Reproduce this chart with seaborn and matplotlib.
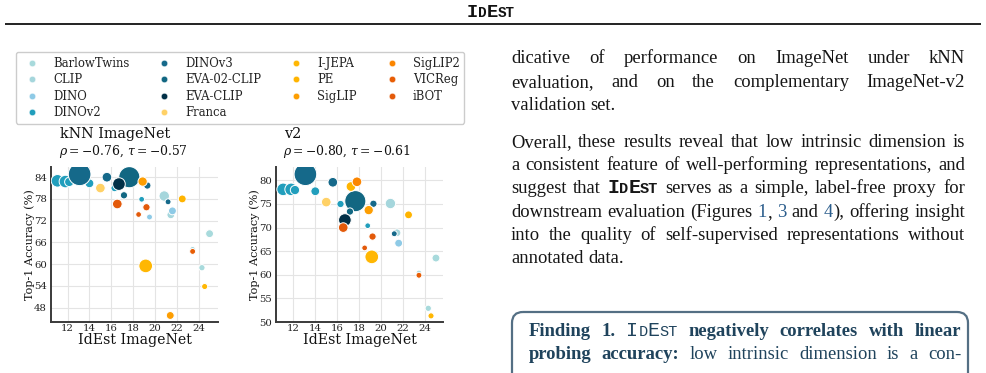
import numpy as np
import pandas as pd
import matplotlib
matplotlib.use("Agg")
import matplotlib.pyplot as plt
import seaborn as sns
from matplotlib.lines import Line2D
from matplotlib.patches import FancyBboxPatch

nan = np.nan

# ---------------- data ----------------
families = ["BarlowTwins", "CLIP", "DINO", "DINOv2", "DINOv3", "EVA-02-CLIP",
            "EVA-CLIP", "Franca", "I-JEPA", "PE", "SigLIP", "SigLIP2", "VICReg", "iBOT"]
family_colors = ["#a8dadc", "#a5d6dc", "#8ecae6", "#219ebc", "#15698a", "#126782",
                 "#023047", "#ffd166", "#ffb703", "#ffb400", "#fd9e02", "#fb8500",
                 "#e85d04", "#e35a0a"]

model_family = (["BarlowTwins"] * 2 + ["CLIP"] * 3 + ["DINO"] * 2 + ["DINOv2"] * 6 +
                ["DINOv3"] * 4 + ["EVA-02-CLIP"] * 2 + ["EVA-CLIP"] + ["Franca"] +
                ["I-JEPA"] * 2 + ["PE"] * 2 + ["SigLIP"] * 2 + ["SigLIP2"] +
                ["VICReg"] + ["iBOT"] * 3)
idest_imagenet = [25.0, 24.3, 20.85, 21.45, 23.45, 21.6, 19.5,
                  11.07, 11.8, 12.15, 14.0, 16.3, 18.78,
                  13.1, 15.6, 19.3, 21.2, 17.65, 17.16, 16.7, 15.0,
                  19.15, 24.55, 22.5, 17.25, 18.87, 21.4, 17.8, 23.45,
                  16.55, 19.22, 18.5]
knn_top1 = [68.4, 59.0, 78.8, 73.6, 64.1, 74.7, 73.0,
            83.0, 82.8, 82.7, 82.3, 81.0, 77.9,
            84.8, 84.0, 81.7, 77.2, 84.0, 79.0, 82.1, 81.0,
            59.5, 53.8, 78.0, nan, 82.8, 45.8, nan, 63.5,
            76.6, 75.7, 73.7]
v2_top1 = [63.55, 52.9, 75.1, 68.9, 60.4, 66.7, 64.5,
           78.1, 78.1, 77.95, 77.7, 75.0, 70.4,
           81.3, 79.6, 75.05, 68.7, 75.6, 73.4, 71.6, 75.4,
           63.8, 51.3, 72.7, 78.7, 73.7, nan, 79.7, 59.9,
           70.0, 68.1, 65.7]
model_size = [19, 9, 40, 18, 5, 19, 7,
              62, 62, 30, 26, 15, 6,
              220, 33, 15, 7, 190, 15, 63, 33,
              75, 8, 19, 33, 30, 19, 33, 7,
              33, 15, 6]

panel_titles = ["kNN ImageNet", "v2"]
panel_stats = [r"$\rho = -0.76$, $\tau = -0.57$", r"$\rho = -0.80$, $\tau = -0.61$"]
x_ticks = [12, 14, 16, 18, 20, 22, 24]
knn_yticks = [48, 54, 60, 66, 72, 78, 84]
v2_yticks = [50, 55, 60, 65, 70, 75, 80]
x_label = "IdEst ImageNet"
y_label = "Top-1 Accuracy (%)"

para1 = [
    "dicative of performance on ImageNet under kNN",
    "evaluation, and on the complementary ImageNet-v2",
    "validation set.",
]
para2 = [
    "Overall, these results reveal that low intrinsic dimension is",
    "a consistent feature of well-performing representations, and",
    "suggest that {IDEST} serves as a simple, label-free proxy for",
    "downstream evaluation (Figures [1], [3] and [4]), offering insight",
    "into the quality of self-supervised representations without",
    "annotated data.",
]
finding = [
    "*Finding* *1.* {IDEST} *negatively* *correlates* *with* *linear*",
    "*probing* *accuracy:* low intrinsic dimension is a con-",
]

# ---------------- figure ----------------
plt.rcParams["font.family"] = ["DejaVu Serif"]
plt.rcParams["mathtext.fontset"] = "dejavuserif"

W, H = 986, 373
fig = plt.figure(figsize=(W / 100, H / 100), dpi=100)
fig.patch.set_facecolor("white")


def fig_rect(x0, y0, x1, y1):
    return [x0 / W, 1 - y1 / H, (x1 - x0) / W, (y1 - y0) / H]


ax_txt = fig.add_axes([0, 0, 1, 1])
ax_txt.set_xlim(0, W)
ax_txt.set_ylim(H, 0)
ax_txt.axis("off")

df = pd.DataFrame({"family": model_family, "idest": idest_imagenet,
                   "knn": knn_top1, "v2": v2_top1, "size": model_size})
pal = dict(zip(families, family_colors))

ax1 = fig.add_axes(fig_rect(50.7, 166.7, 218.3, 322))
ax2 = fig.add_axes(fig_rect(276, 166.7, 443.3, 322))

for ax, col, yt, ylim, xlim in [(ax1, "knn", knn_yticks, (44.0, 86.9), (10.45, 25.8)),
                                (ax2, "v2", v2_yticks, (50.0, 82.9), (10.42, 25.67))]:
    sns.scatterplot(data=df, x="idest", y=col, hue="family", hue_order=families,
                    palette=pal, size="size", sizes=(10, 300), size_norm=(0, 250),
                    edgecolor="white", linewidth=0.7, legend=False, ax=ax, zorder=3)
    ax.set_xlim(*xlim)
    ax.set_ylim(*ylim)
    ax.set_xticks(x_ticks)
    ax.set_yticks(yt)
    ax.set_facecolor("white")
    ax.grid(True, color="#e4e4e4", lw=0.8)
    ax.set_axisbelow(True)
    for s in ["top", "right"]:
        ax.spines[s].set_visible(False)
    for s in ["left", "bottom"]:
        ax.spines[s].set_color("#3a3a3a")
        ax.spines[s].set_linewidth(1.4)
    ax.tick_params(axis="both", length=0, labelsize=7.3, colors="#222222")
    ax.tick_params(axis="x", pad=1.5)
    ax.tick_params(axis="y", pad=2.6)
    ax.set_xlabel(x_label, fontsize=10.2, color="#111111")
    ax.set_ylabel(y_label, fontsize=8.1, color="#111111")
    ax.yaxis.label.set_verticalalignment("center")
    ax.xaxis.set_label_coords(0.5, -0.07)
    ax.yaxis.set_label_coords(-0.128, 0.5)

# panel titles
for (x0, title, stats) in [(60, panel_titles[0], panel_stats[0]),
                           (284, panel_titles[1], panel_stats[1])]:
    ax_txt.text(x0, 134, title, fontsize=10.4, ha="left", va="center", color="#111111")
    ax_txt.text(x0 - 1, 151, stats, fontsize=8.9, ha="left", va="center", color="#111111")

# legend
handles = [Line2D([], [], ls="none", marker="o", markersize=4.6, markerfacecolor=c,
                  markeredgecolor="white", markeredgewidth=0.3) for c in family_colors]
leg = fig.legend(handles, families, ncol=4, loc="upper left",
                 bbox_to_anchor=(15.7 / W, 1 - 52 / H), bbox_transform=fig.transFigure,
                 borderaxespad=0, fontsize=8.4, frameon=True, fancybox=True,
                 edgecolor="#cccccc", framealpha=1, labelspacing=0.3, handlelength=2.0,
                 handletextpad=0.8, columnspacing=2.0, borderpad=0.4)
for t in leg.get_texts():
    t.set_color("#222222")

# ---------------- page text ----------------
renderer = fig.canvas.get_renderer()
BODY = 13.4
TXT_C = "#161616"
body_props = dict(family="Liberation Serif", fontsize=BODY, color=TXT_C)
link_props = dict(family="Liberation Serif", fontsize=BODY, color="#2b5d8c")
FIND_C = "#1f435c"


def measure(text, props):
    t = ax_txt.text(0, 0, text, **props)
    w = t.get_window_extent(renderer).width
    t.remove()
    return w


def idest_runs(size, weight, color):
    big = dict(family="Liberation Mono", fontsize=size * 1.07, fontweight=weight, color=color)
    small = dict(family="Liberation Mono", fontsize=size * 0.82, fontweight=weight, color=color)
    return [("I", big), ("D", small), ("E", big), ("ST", small)]


def parse_word(word, base, bold, idest_style):
    if word == "{IDEST}":
        return idest_runs(*idest_style)
    if word.startswith("*") and word.endswith("*"):
        return [(word[1:-1], bold)]
    if "[" in word:
        runs = []
        pre, rest = word.split("[", 1)
        num, post = rest.split("]", 1)
        if pre:
            runs.append((pre, base))
        runs.append((num, link_props))
        if post:
            runs.append((post, base))
        return runs
    return [(word, base)]


def draw_line(y, line, x0, x1, justify, base, bold=None, idest_style=(BODY, "bold", TXT_C)):
    words = [parse_word(w, base, bold, idest_style) for w in line.split(" ")]
    widths = [[measure(t, p) for t, p in w] for w in words]
    total = sum(sum(ws) for ws in widths)
    space = measure("a a", base) - measure("aa", base)
    if justify and len(words) > 1:
        gap = max((x1 - x0 - total) / (len(words) - 1), 0.6 * space)
    else:
        gap = space
    x = x0
    for w, ws in zip(words, widths):
        xx = x
        for (t, p), wd in zip(w, ws):
            ax_txt.text(xx, y, t, ha="left", va="baseline", **p)
            xx += wd
        x += sum(ws) + gap


LX0, LX1 = 511, 965
for i, line in enumerate(para1):
    draw_line(63.3 + 23.3 * i, line, LX0, LX1, i < len(para1) - 1, body_props)
for i, line in enumerate(para2):
    draw_line(146.7 + 23.3 * i, line, LX0, LX1, i < len(para2) - 1, body_props)

# finding box
box = FancyBboxPatch((512, 312), 456, 120, boxstyle="round,pad=0,rounding_size=11",
                     ec="#546f84", fc="none", lw=1.6, transform=ax_txt.transData)
ax_txt.add_patch(box)
f_reg = dict(family="Liberation Serif", fontsize=BODY, color=FIND_C)
f_bold = dict(family="Liberation Serif", fontsize=BODY, color=FIND_C, fontweight="bold")
for i, line in enumerate(finding):
    draw_line(336 + 23.3 * i, line, 529, 961, True, f_reg, f_bold,
              idest_style=(BODY, "normal", FIND_C))

# header (small caps)
hx = 466.5
for ch, s in zip(["I", "D", "E", "ST"], [13.5, 10.3, 13.5, 10.3]):
    p = dict(family="Liberation Mono", fontweight="bold", fontsize=s, color="#111111")
    ax_txt.text(hx, 16.7, ch, ha="left", va="baseline", **p)
    hx += measure(ch, p)
ax_txt.plot([5, 981], [24, 24], color="#111111", lw=1.3, solid_capstyle="butt")

fig.savefig("out.png", dpi=100, facecolor="white")
